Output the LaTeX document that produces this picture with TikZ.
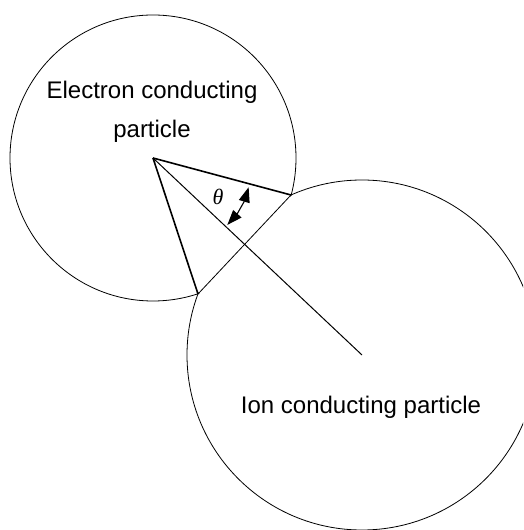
\documentclass[tikz,border=0pt]{standalone}
\usepackage{fontspec}
\setmainfont{Liberation Sans}
\newfontfamily\thetafont{Liberation Serif}
\usetikzlibrary{arrows.meta}
\begin{document}
\begin{tikzpicture}[x=1pt,y=1pt,
  outline/.style={line width=0.8pt,black},
  thickline/.style={line width=1.6pt,black},
  thinline/.style={line width=1.0pt,black},
  anglearrow/.style={line width=1.1pt,black,{Triangle[length=15pt,width=11pt]}-{Triangle[length=15pt,width=11pt]}},
  lbl/.style={font=\fontsize{24}{29}\selectfont,inner sep=0pt}]
\useasboundingbox (0,0) rectangle (523,530);
\clip (0,0) rectangle (523,530);
% centres and contact points
\coordinate (c1) at (153,372);
\coordinate (c2) at (362,175);
\coordinate (A) at (291,335);
\coordinate (B) at (198,236);
% particles
\draw[outline] (c1) circle[radius=143];
\draw[outline] (c2) circle[radius=175];
% erase the arcs inside the overlap
\begin{scope}
  \clip (c2) circle[radius=173.8];
  \fill[white] (c1) circle[radius=144.5];
\end{scope}
\begin{scope}
  \clip (c1) circle[radius=141.8];
  \fill[white] (c2) circle[radius=176.5];
\end{scope}
% neck
\draw[outline] (A) -- (B);
% radii
\draw[thickline] (c1) -- (A);
\draw[thickline] (c1) -- (B);
\draw[thinline] (c1) -- (c2);
% angle
\draw[anglearrow] ([shift={(-42:100)}]c1) arc[start angle=-42, end angle=-17, radius=100];
\node[inner sep=0pt] (theta) at (218,333) {\fontsize{22}{26}\selectfont\thetafont\itshape θ};
% labels
\node[lbl,anchor=base] (el1) at (152,431) {Electron conducting};
\node[lbl,anchor=base] (el2) at (152,392) {particle};
\node[lbl,anchor=base] (ion) at (361,116) {Ion conducting particle};
\end{tikzpicture}
\end{document}
